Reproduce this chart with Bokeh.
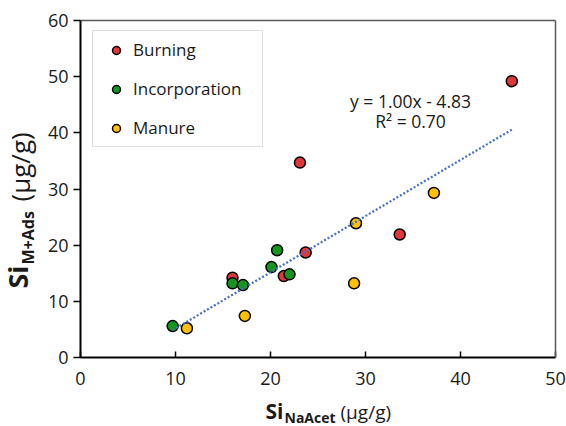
import numpy as np
from bokeh.plotting import figure
from bokeh.models import Label, Legend, LegendItem, Range1d, FixedTicker, LinearAxis
from bokeh.embed import file_html
from bokeh.resources import INLINE

# ---- data ----
burning_x = [45.4, 23.1, 33.6, 23.7, 21.4, 16.0]
burning_y = [49.2, 34.7, 21.9, 18.7, 14.5, 14.2]
incorp_x = [9.7, 16.0, 17.1, 20.1, 20.7, 22.0]
incorp_y = [5.6, 13.2, 12.9, 16.1, 19.1, 14.8]
manure_x = [11.2, 17.3, 28.8, 29.0, 37.2]
manure_y = [5.2, 7.4, 13.2, 23.9, 29.3]

trend_slope = 1.00
trend_intercept = -4.83
trend_eq = "y = 1.00x - 4.83"
trend_r2 = "R\u00b2 = 0.70"

x_ticks = [0, 10, 20, 30, 40, 50]
y_ticks = [0, 10, 20, 30, 40, 50, 60]
X_MAX, Y_MAX = 50, 60

series_names = ["Burning", "Incorporation", "Manure"]
series_colors = ["#E0373A", "#14961E", "#FFC000"]

x_title = ["Si", "NaAcet", "(\u00b5g/g)"]
y_title = ["Si", "M+Ads", "(\u00b5g/g)"]

FONT = "Open Sans"
TXT = "#1a1a1a"

# ---- layout (page pixels) ----
W, H = 566, 426
FL, FR, FT, FB = 80, 555, 20, 357   # plot-area edges in page pixels
PPX = (FR - FL) / X_MAX             # pixels per x unit
PPY = (FB - FT) / Y_MAX             # pixels per y unit

p = figure(width=W, height=H,
           x_range=Range1d(-FL / PPX, X_MAX + (W - FR) / PPX),
           y_range=Range1d(-(H - FB) / PPY, Y_MAX + FT / PPY),
           output_backend="svg", toolbar_location=None, min_border=0)
p.title = None
p.background_fill_color = "white"
p.border_fill_color = "white"
p.outline_line_color = None
p.grid.visible = False

for ax, loc, bnd, tks in ((p.xaxis, 0, (0, X_MAX), x_ticks), (p.yaxis, 0, (0, Y_MAX), y_ticks)):
    ax.fixed_location = loc
    ax.bounds = bnd
    ax.ticker = FixedTicker(ticks=tks)
    ax.axis_line_color = "black"
    ax.axis_line_width = 2
    ax.major_tick_line_color = "black"
    ax.major_tick_line_width = 1.5
    ax.minor_tick_in = 0
    ax.minor_tick_out = 0
    ax.major_label_text_font = FONT
    ax.major_label_text_font_size = "18px"
    ax.major_label_text_color = TXT

p.xaxis.major_tick_in = 6
p.xaxis.major_tick_out = 0
p.xaxis.major_label_standoff = 14
p.yaxis.major_tick_in = 0
p.yaxis.major_tick_out = 7
p.yaxis.major_label_standoff = 5

# top and right edges of the plot area (grey frame lines)
top_ax = LinearAxis(fixed_location=Y_MAX, bounds=(0, X_MAX), ticker=FixedTicker(ticks=[]),
                    axis_line_color="#595959", axis_line_width=1.5)
right_ax = LinearAxis(fixed_location=X_MAX, bounds=(0, Y_MAX), ticker=FixedTicker(ticks=[]),
                      axis_line_color="#595959", axis_line_width=1.5)
p.add_layout(top_ax, "above")
p.add_layout(right_ax, "right")

renderers = []
for xs, ys, c in zip([burning_x, incorp_x, manure_x], [burning_y, incorp_y, manure_y], series_colors):
    r = p.scatter(xs, ys, size=11, fill_color=c, line_color="black", line_width=1.5)
    renderers.append(r)

all_x = burning_x + incorp_x + manure_x
tx = np.array([min(all_x), max(all_x)])
ty = trend_slope * tx + trend_intercept
p.line(tx, ty, line_color="#4472C4", line_width=2.25, line_dash="2 2")

legend = Legend(items=[LegendItem(label=n, renderers=[r]) for n, r in zip(series_names, renderers)],
                location=(92, H - 147))
legend.border_line_color = "#BFBFBF"
legend.border_line_width = 1.5
legend.padding = 7
legend.spacing = 16
legend.glyph_height = 20
legend.glyph_width = 32
legend.label_height = 20
legend.label_width = 122
legend.label_standoff = 1
legend.label_text_font = FONT
legend.label_text_font_size = "17px"
legend.label_text_color = TXT
legend.margin = 0
p.add_layout(legend)

def dx(px):
    return (px - FL) / PPX

def dy(py):
    return (FB - py) / PPY

p.add_layout(Label(x=dx(410), y=dy(100), text=trend_eq, text_align="center", text_baseline="alphabetic",
                   text_font=FONT, text_font_size="17.5px", text_color=TXT))
p.add_layout(Label(x=dx(410), y=dy(120), text=trend_r2, text_align="center", text_baseline="alphabetic",
                   text_font=FONT, text_font_size="17.5px", text_color=TXT))

# ---- x axis title: (left x, anchor y) in page pixels ----
xt_pos = [(265, 410), (284, 417), (340, 411)]
xt_size = ["21px", "14px", "19px"]
xt_style = ["bold", "bold", "normal"]
for t, (px, py), s, st in zip(x_title, xt_pos, xt_size, xt_style):
    p.add_layout(Label(x=dx(px), y=dy(py), text=t, text_align="left", text_baseline="alphabetic",
                       text_font=FONT, text_font_size=s, text_font_style=st, text_color=TXT))

# ---- y axis title (reads bottom to top): (anchor x, start y) in page pixels ----
yt_pos = [(17, 288), (27, 264), (19, 201)]
yt_size = ["27px", "16px", "26px"]
for t, (px, py), s, st in zip(y_title, yt_pos, yt_size, xt_style):
    p.add_layout(Label(x=dx(px), y=dy(py), text=t, angle=np.pi / 2, text_align="left",
                       text_baseline="alphabetic", text_font=FONT, text_font_size=s,
                       text_font_style=st, text_color=TXT))

open("out.html", "w").write(file_html(p, INLINE))
